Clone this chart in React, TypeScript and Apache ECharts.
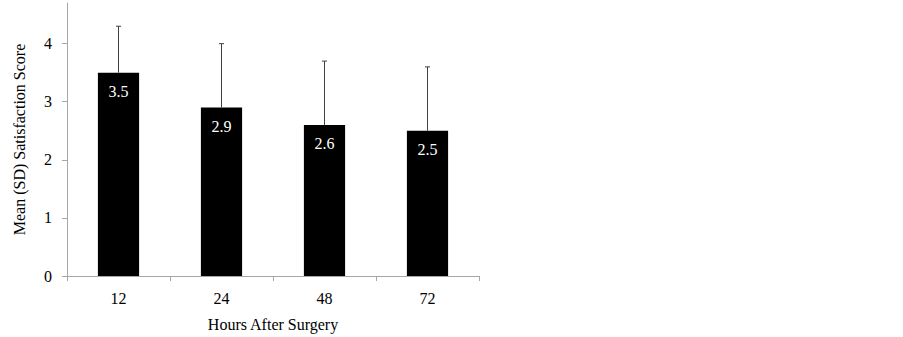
import React, { useEffect, useRef } from "react";
import * as echarts from "echarts";

const categories = ["12", "24", "48", "72"];
const means = [3.5, 2.9, 2.6, 2.5];
const sds = [0.8, 1.1, 1.1, 1.1];
const yTicks = [0, 1, 2, 3, 4];

export default function App() {
  const ref = useRef<HTMLDivElement>(null);
  useEffect(() => {
    if (!ref.current) return;
    const chart = echarts.init(ref.current, null, { renderer: "svg" });
    const font = "Liberation Serif";
    chart.setOption({
      animation: false,
      textStyle: { fontFamily: font },
      grid: { left: 67, right: 424, top: 3, bottom: 59, containLabel: false },
      xAxis: {
        type: "category",
        data: categories,
        name: "Hours After Surgery",
        nameLocation: "middle",
        nameGap: 40,
        nameTextStyle: { fontFamily: font, fontSize: 16, color: "#000" },
        axisLine: { lineStyle: { color: "#a6a6a6", width: 1 } },
        axisTick: { show: true, length: 5, lineStyle: { color: "#a6a6a6" } },
        axisLabel: { fontFamily: font, fontSize: 16, color: "#000", margin: 14 },
      },
      yAxis: {
        type: "value",
        min: 0,
        max: 4.7,
        interval: 1,
        name: "Mean (SD) Satisfaction Score",
        nameLocation: "middle",
        nameRotate: 90,
        nameGap: 40,
        nameTextStyle: { fontFamily: font, fontSize: 16, color: "#000" },
        axisLine: { show: true, lineStyle: { color: "#a6a6a6", width: 1 } },
        axisTick: { show: true, length: 5, customValues: yTicks, lineStyle: { color: "#a6a6a6" } },
        axisLabel: {
          fontFamily: font,
          fontSize: 16,
          color: "#000",
          margin: 15,
          customValues: yTicks,
          formatter: (v: number) => (Number.isInteger(v) ? String(v) : ""),
        },
        splitLine: { show: false },
      },
      series: [
        {
          type: "bar",
          data: means,
          barWidth: "40%",
          itemStyle: { color: "#000" },
          label: {
            show: true,
            position: "insideTop",
            distance: 11,
            color: "#fff",
            fontFamily: font,
            fontSize: 16,
          },
          z: 2,
        },
        {
          type: "custom",
          data: means.map((m, i) => [i, m, m + sds[i]]),
          z: 3,
          renderItem: (params: any, api: any) => {
            const base = api.coord([api.value(0), api.value(1)]);
            const top = api.coord([api.value(0), api.value(2)]);
            const style = { stroke: "#404040", lineWidth: 1 };
            return {
              type: "group",
              children: [
                { type: "line", shape: { x1: base[0], y1: base[1], x2: top[0], y2: top[1] }, style },
                { type: "line", shape: { x1: top[0] - 2.5, y1: top[1], x2: top[0] + 2.5, y2: top[1] }, style },
              ],
            };
          },
        },
      ],
    });
    return () => chart.dispose();
  }, []);
  return <div ref={ref} style={{ width: 903, height: 337, position: "absolute", left: 0, top: 0 }} />;
}
